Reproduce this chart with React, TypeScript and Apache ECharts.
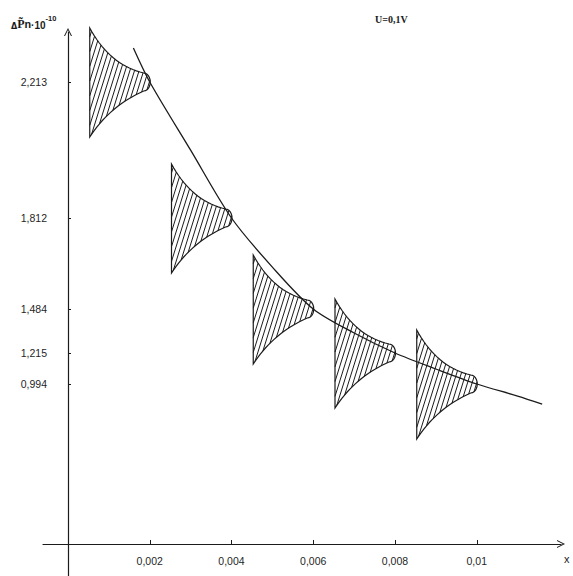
import React, { useEffect, useRef } from "react";
import * as echarts from "echarts";

// ---- data ----
const xTickValues = [0.002, 0.004, 0.006, 0.008, 0.01];
const xTickLabels = ["0,002", "0,004", "0,006", "0,008", "0,01"];
const yTickValues = [0.994, 1.215, 1.484, 1.812, 2.213];
const yTickLabels = ["0,994", "1,215", "1,484", "1,812", "2,213"];

// tips of the hatched distribution shapes
const pennantX = [0.002, 0.004, 0.006, 0.008, 0.01];
const pennantY = [2.213, 1.812, 1.484, 1.215, 0.994];

// the smooth curve
const curveX = [0.0016, 0.002, 0.003, 0.004, 0.005, 0.006, 0.007, 0.008, 0.009, 0.01, 0.011, 0.0116];
const curveY = [2.313, 2.213, 2.012, 1.812, 1.635, 1.484, 1.337, 1.215, 1.101, 0.994, 0.908, 0.851];

// ---- layout: the printed ordinate is not uniform; where its ticks sit on a linear drawing scale ----
const Y_TICK_POS = [160, 191, 235, 326, 462];

function warp(v: number): number {
  const n = yTickValues.length;
  let i = 0;
  if (v <= yTickValues[0]) i = 0;
  else if (v >= yTickValues[n - 1]) i = n - 2;
  else {
    while (v > yTickValues[i + 1]) i++;
  }
  const t = (v - yTickValues[i]) / (yTickValues[i + 1] - yTickValues[i]);
  return Y_TICK_POS[i] + t * (Y_TICK_POS[i + 1] - Y_TICK_POS[i]);
}

const INK = "#1b1b1b";
const LABEL = "#1f1f1f";

function pennantOutline(): number[][] {
  const pts: number[][] = [];
  const quad = (p0: number[], c: number[], p1: number[], steps: number) => {
    for (let k = 0; k <= steps; k++) {
      const t = k / steps;
      const a = (1 - t) * (1 - t), b = 2 * (1 - t) * t, d = t * t;
      pts.push([a * p0[0] + b * c[0] + d * p1[0], a * p0[1] + b * c[1] + d * p1[1]]);
    }
  };
  quad([-60, -54], [-40, -17], [-6, -9], 18);
  for (let k = 1; k < 12; k++) {
    const th = (Math.PI * k) / 12;
    pts.push([-6 + 6.5 * Math.sin(th), -9 * Math.cos(th)]);
  }
  quad([-6, 9], [-40, 24], [-60, 55], 18);
  return pts;
}

function hatchSegments(poly: number[][], spacing: number): number[][][] {
  const dl = Math.hypot(1, -3.2);
  const d = [1 / dl, -3.2 / dl];
  const n = [3.2 / dl, 1 / dl];
  const proj = poly.map((p) => p[0] * n[0] + p[1] * n[1]);
  const cmin = Math.min(...proj), cmax = Math.max(...proj);
  const segs: number[][][] = [];
  for (let c = cmin + spacing * 0.6; c < cmax; c += spacing) {
    const hits: number[][] = [];
    for (let i = 0; i < poly.length; i++) {
      const a = poly[i], b = poly[(i + 1) % poly.length];
      const sa = proj[i] - c, sb = proj[(i + 1) % poly.length] - c;
      if ((sa < 0 && sb >= 0) || (sa >= 0 && sb < 0)) {
        const t = sa / (sa - sb);
        hits.push([a[0] + (b[0] - a[0]) * t, a[1] + (b[1] - a[1]) * t]);
      }
    }
    hits.sort((p, q) => p[0] * d[0] + p[1] * d[1] - (q[0] * d[0] + q[1] * d[1]));
    for (let k = 0; k + 1 < hits.length; k += 2) segs.push([hits[k], hits[k + 1]]);
  }
  return segs;
}

const ARROW_UP = "path://M0,10 L5,0 L10,10 L8.7,10 L5,2.6 L1.3,10 Z";

export default function App() {
  const ref = useRef<HTMLDivElement>(null);
  useEffect(() => {
    if (!ref.current) return;
    const chart = echarts.init(ref.current, null, { renderer: "svg" });
    const outline = pennantOutline();
    const hatch = hatchSegments(outline, 4.4);

    const option: any = {
      animation: false,
      backgroundColor: "#ffffff",
      title: [
        {
          text: "{d|Δ}{p|P\u0303}{n|n}{m|·10}{e|-10}",
          left: 6,
          top: 9,
          textStyle: {
            rich: {
              d: { fontSize: 8, fontFamily: "DejaVu Sans", color: INK, verticalAlign: "bottom", lineHeight: 16 },
              p: { fontSize: 12, fontFamily: "Liberation Serif", color: INK, verticalAlign: "bottom", lineHeight: 16 },
              n: { fontSize: 11, fontFamily: "Liberation Mono", color: INK, verticalAlign: "bottom", lineHeight: 16 },
              m: { fontSize: 10, fontFamily: "Liberation Sans", color: INK, verticalAlign: "bottom", lineHeight: 16 },
              e: { fontSize: 7.5, fontFamily: "Liberation Sans", color: INK, verticalAlign: "top", lineHeight: 16 },
            },
          },
        },
        {
          text: "U=0,1V",
          left: 370,
          top: 9,
          textStyle: { fontSize: 10, fontWeight: "bold", fontFamily: "Liberation Serif", color: INK },
        },
      ],
      grid: { left: 43, right: 12, top: 32, bottom: 0, containLabel: false, outerBoundsMode: "none" },
      xAxis: {
        type: "value",
        min: -(68 - 43) / 40875,
        max: (561 - 68) / 40875,
        name: "x",
        nameLocation: "end",
        nameGap: 3,
        nameTextStyle: { fontSize: 11, fontFamily: "Liberation Sans", color: INK, verticalAlign: "top", padding: [9, 0, 0, 0] },
        axisLine: {
          onZero: true,
          symbol: ["none", ARROW_UP],
          symbolSize: [8, 9],
          lineStyle: { color: INK, width: 1.2 },
        },
        axisTick: { show: true, inside: true, length: 4, customValues: xTickValues, lineStyle: { color: INK, width: 1 } },
        axisLabel: {
          customValues: xTickValues,
          margin: -21,
          fontSize: 10.5,
          fontFamily: "Liberation Sans",
          color: LABEL,
          formatter: (v: number) => {
            const i = xTickValues.findIndex((t) => Math.abs(t - v) < 1e-7);
            return i >= 0 ? xTickLabels[i] : "";
          },
        },
        splitLine: { show: false },
      },
      yAxis: {
        type: "value",
        min: -32,
        max: 512,
        axisLine: {
          onZero: true,
          symbol: ["none", ARROW_UP],
          symbolSize: [8, 9],
          lineStyle: { color: INK, width: 1.2 },
        },
        axisTick: { show: true, inside: true, length: 3, customValues: yTickValues.map(warp), lineStyle: { color: INK, width: 1 } },
        axisLabel: {
          customValues: yTickValues.map(warp),
          margin: -4,
          fontSize: 10.5,
          fontFamily: "Liberation Sans",
          color: LABEL,
          formatter: (v: number) => {
            const i = yTickValues.findIndex((t) => Math.abs(warp(t) - v) < 1e-6);
            return i >= 0 ? yTickLabels[i] : "";
          },
        },
        splitLine: { show: false },
      },
      series: [
        {
          type: "custom",
          z: 2,
          data: pennantX.map((x, i) => [x, warp(pennantY[i])]),
          renderItem: (_params: any, api: any) => {
            const tip = api.coord([api.value(0), api.value(1)]);
            const children: any[] = hatch.map((s) => ({
              type: "line",
              shape: { x1: tip[0] + s[0][0], y1: tip[1] + s[0][1], x2: tip[0] + s[1][0], y2: tip[1] + s[1][1] },
              style: { stroke: INK, lineWidth: 1 },
            }));
            children.push({
              type: "polygon",
              shape: { points: outline.map((p) => [tip[0] + p[0], tip[1] + p[1]]) },
              style: { fill: "none", stroke: INK, lineWidth: 1.2 },
            });
            return { type: "group", children };
          },
        },
        {
          type: "line",
          z: 3,
          data: curveX.map((x, i) => [x, warp(curveY[i])]),
          showSymbol: false,
          smooth: 0.3,
          lineStyle: { color: INK, width: 1.3 },
        },
      ],
    };
    chart.setOption(option);
    return () => chart.dispose();
  }, []);
  return <div ref={ref} style={{ position: "fixed", left: 0, top: 0, width: 573, height: 576 }} />;
}
